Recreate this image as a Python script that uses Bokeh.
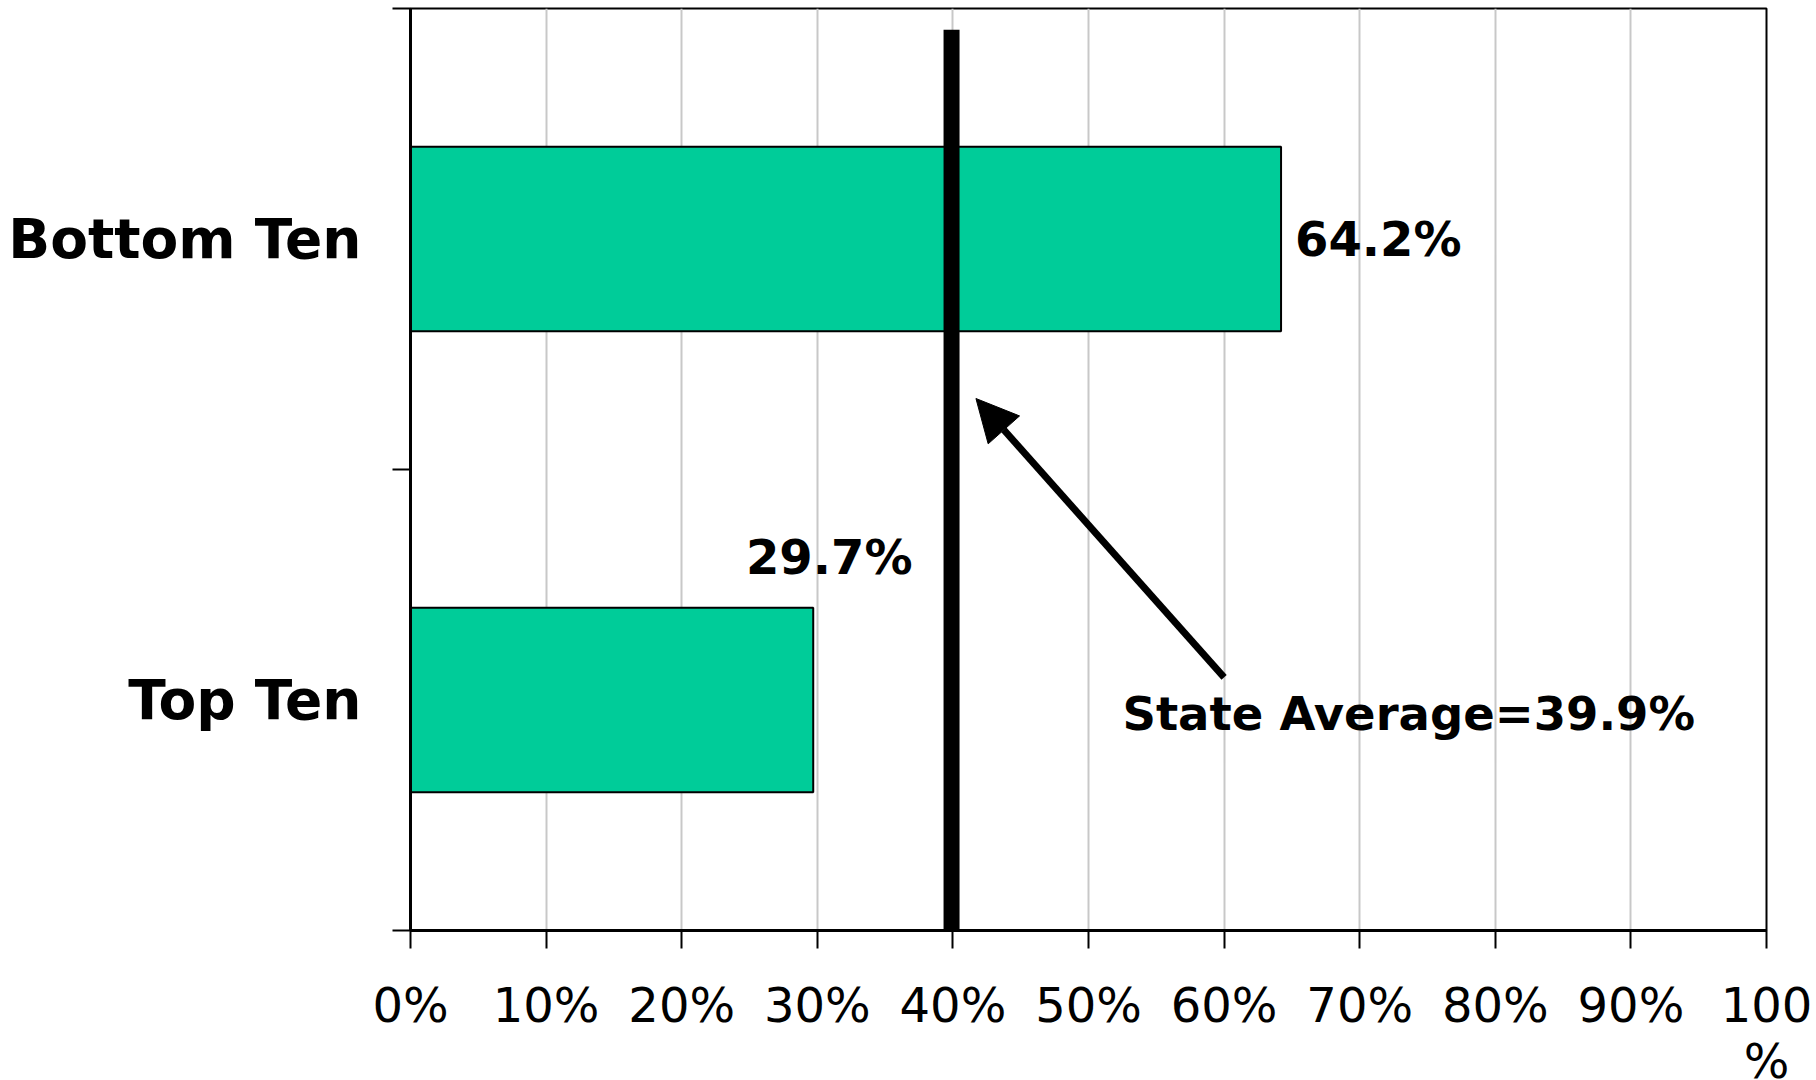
import numpy as np
from bokeh.plotting import figure
from bokeh.models import Range1d, FixedTicker, Arrow, NormalHead, ColumnDataSource
from bokeh.core.properties import value
from bokeh.embed import file_html
from bokeh.resources import INLINE

# ---- data ----
categories = ["Top Ten", "Bottom Ten"]
values = [29.7, 64.2]
value_labels = ["29.7%", "64.2%"]
state_average = 39.9
state_label = "State Average=39.9%"
x_ticks = [0, 10, 20, 30, 40, 50, 60, 70, 80, 90, 100]
x_tick_labels = ["0%", "10%", "20%", "30%", "40%", "50%", "60%", "70%", "80%", "90%", "100\n%"]

FONT = "DejaVu Sans"
BAR_COLOR = "#00CC99"

ypos = np.arange(len(categories)) + 0.5

p = figure(
    output_backend="svg", toolbar_location=None,
    frame_width=1356, frame_height=922,
    min_border_left=410, min_border_right=50, min_border_top=8, min_border_bottom=10,
    x_range=Range1d(0, 100), y_range=Range1d(0, len(categories)),
)
p.background_fill_color = "white"
p.border_fill_color = "white"
p.outline_line_color = "black"
p.outline_line_width = 2

# grid
p.ygrid.visible = False
p.xgrid.ticker = FixedTicker(ticks=x_ticks[1:-1])
p.xgrid.grid_line_color = "#C8C8C8"
p.xgrid.grid_line_width = 2

# x axis
xa = p.xaxis[0]
xa.ticker = FixedTicker(ticks=x_ticks)
xa.major_label_overrides = {t: l for t, l in zip(x_ticks, x_tick_labels)}
xa.major_label_text_font = FONT
xa.major_label_text_font_size = "48px"
xa.major_label_text_color = "black"
xa.major_label_text_line_height = 1.0
xa.major_label_standoff = 28
xa.major_tick_out = 18
xa.major_tick_in = 0
xa.major_tick_line_width = 2
xa.major_tick_line_color = "black"
xa.minor_tick_line_color = None
xa.axis_line_width = 3
xa.axis_line_color = "black"

# y axis: labels at category centres, tick marks at boundaries
ya = p.yaxis[0]
ya.ticker = FixedTicker(ticks=list(ypos), minor_ticks=list(np.arange(len(categories) + 1)))
ya.major_label_overrides = {float(y): c for y, c in zip(ypos, categories)}
ya.major_label_text_font = FONT
ya.major_label_text_font_style = "bold"
ya.major_label_text_font_size = "55px"
ya.major_label_text_color = "black"
ya.major_label_standoff = 31
ya.major_tick_out = 18
ya.major_tick_in = 0
ya.major_tick_line_color = None
ya.minor_tick_out = 18
ya.minor_tick_in = 0
ya.minor_tick_line_color = "black"
ya.minor_tick_line_width = 2
ya.axis_line_width = 3
ya.axis_line_color = "black"

# bars
src = ColumnDataSource(dict(y=ypos, v=values, lab=value_labels))
p.hbar(y="y", left=0, right="v", height=0.4, source=src,
       fill_color=BAR_COLOR, line_color="black", line_width=2)

# state average line
p.segment(x0=[state_average], x1=[state_average], y0=[0], y1=[1.954],
          line_color="black", line_width=16, line_cap="butt")

# value labels
p.text(x=[values[1]], y=[ypos[1]], text=[value_labels[1]], x_offset=14,
       text_align="left", text_baseline="middle",
       text_font=value(FONT), text_font_style="bold", text_font_size="48px", text_color="black")
p.text(x=[values[0]], y=[ypos[0] + 0.31], text=[value_labels[0]], x_offset=16,
       text_align="center", text_baseline="middle",
       text_font=value(FONT), text_font_style="bold", text_font_size="48px", text_color="black")

# state average annotation
p.text(x=[state_average + 12.6], y=[0.47], text=[state_label],
       text_align="left", text_baseline="middle",
       text_font=value(FONT), text_font_style="bold", text_font_size="46.5px", text_color="black")
p.add_layout(Arrow(end=NormalHead(size=42, fill_color="black", line_color="black"),
                   x_start=60.0, y_start=0.549, x_end=41.7, y_end=1.154,
                   line_width=7, line_color="black"))

open("out.html", "w").write(file_html(p, INLINE))
